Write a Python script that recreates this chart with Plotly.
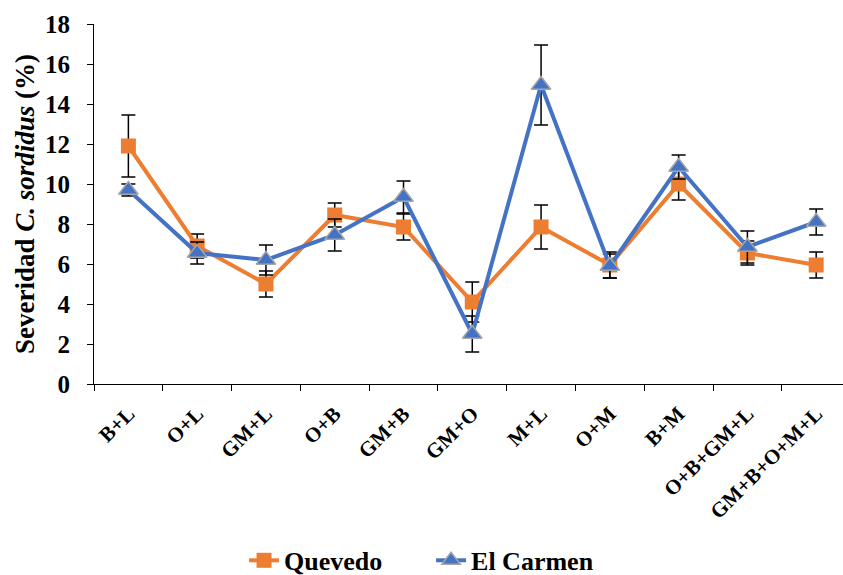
import plotly.graph_objects as go

# Treatments and mean severity per location
treatments = ["B+L", "O+L", "GM+L", "O+B", "GM+B", "GM+O", "M+L", "O+M", "B+M",
              "O+B+GM+L", "GM+B+O+M+L"]
quevedo = [11.9, 6.9, 5.0, 8.45, 7.85, 4.1, 7.85, 5.95, 10.0, 6.55, 5.95]
quevedo_err = [1.55, 0.6, 0.65, 0.6, 0.65, 1.0, 1.1, 0.65, 0.8, 0.6, 0.65]
el_carmen = [9.7, 6.55, 6.2, 7.45, 9.35, 2.5, 14.95, 5.9, 10.85, 6.85, 8.1]
el_carmen_err = [0.3, 0.55, 0.75, 0.8, 0.8, 0.9, 2.0, 0.6, 0.6, 0.8, 0.65]
y_ticks = [0, 2, 4, 6, 8, 10, 12, 14, 16, 18]

FONT = "Liberation Serif"

fig = go.Figure()
fig.add_trace(go.Scatter(
    x=treatments, y=quevedo, name="<b>Quevedo</b>", mode="lines+markers",
    line=dict(color="#ED7D31", width=4),
    marker=dict(symbol="square", size=15, color="#ED7D31"),
    error_y=dict(type="data", array=quevedo_err, color="black", thickness=1.5, width=7),
))
fig.add_trace(go.Scatter(
    x=treatments, y=el_carmen, name="<b>El Carmen</b>", mode="lines+markers",
    line=dict(color="#4472C4", width=4),
    marker=dict(symbol="triangle-up", size=17, color="#4472C4",
                line=dict(color="#A5A5A5", width=1.5)),
    error_y=dict(type="data", array=el_carmen_err, color="black", thickness=1.5, width=7),
))

fig.update_layout(
    width=843, height=575,
    margin=dict(l=94, r=0, t=24, b=191, autoexpand=False),
    paper_bgcolor="white", plot_bgcolor="white",
    font=dict(family=FONT, color="black"),
    showlegend=True,
    legend=dict(orientation="h", x=0.45, xanchor="center", y=-0.49, yanchor="middle",
                font=dict(size=26, family=FONT, color="black"),
                entrywidth=142, entrywidthmode="pixels", traceorder="normal"),
)
fig.update_xaxes(
    type="category", range=[-0.5, 10.39], automargin=False,
    tickvals=treatments, ticktext=[f"<b>{t}</b>" for t in treatments],
    showline=True, linecolor="black", linewidth=1.2,
    ticks="outside", tickson="boundaries", ticklen=6, tickcolor="black",
    tickangle=-45, tickfont=dict(size=21, family=FONT, color="black"),
    ticklabelstandoff=8,
    showgrid=False, zeroline=False,
)
fig.update_yaxes(
    range=[0, 18], tickvals=y_ticks, ticktext=[f"<b>{v}</b>" for v in y_ticks],
    automargin=False,
    showline=True, linecolor="black", linewidth=1.2,
    ticks="outside", ticklen=6, tickcolor="black",
    tickfont=dict(size=25, family=FONT, color="black"),
    ticklabelstandoff=12,
    showgrid=False, zeroline=False,
    title=dict(text="<b>Severidad <i>C. sordidus</i> (%)</b>",
               font=dict(size=27, family=FONT, color="black"), standoff=2),
)

fig.write_html("out.html")
